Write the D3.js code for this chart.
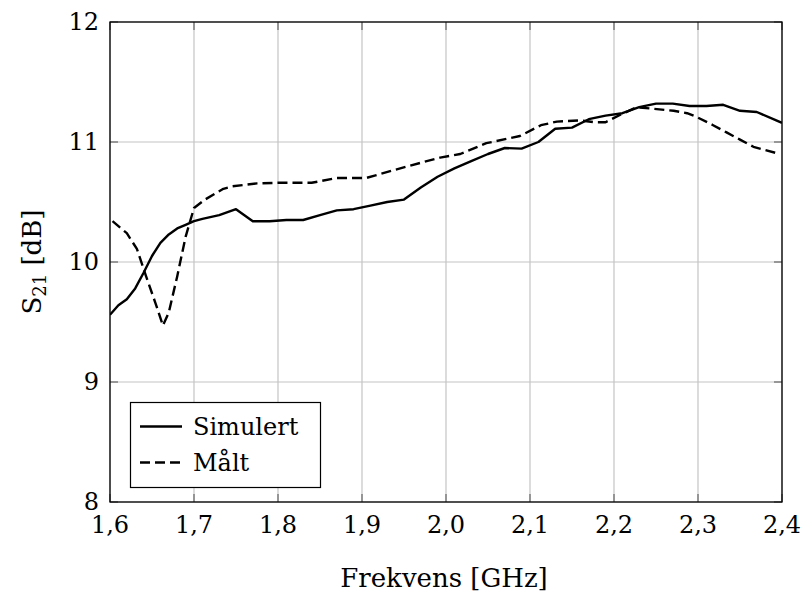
<!DOCTYPE html>
<html>
<head>
<meta charset="utf-8">
<script src="https://cdn.jsdelivr.net/npm/d3@7"></script>
<style>
  html, body { margin: 0; padding: 0; background: #fff; }
  svg text { font-family: "DejaVu Serif", serif; fill: #000; }
</style>
</head>
<body>
<svg id="chart" width="807" height="596"></svg>
<script>
// ---- data ----
const xTicks = [1.6, 1.7, 1.8, 1.9, 2.0, 2.1, 2.2, 2.3, 2.4];
const xTickLabels = ["1,6", "1,7", "1,8", "1,9", "2,0", "2,1", "2,2", "2,3", "2,4"];
const yTicks = [8, 9, 10, 11, 12];
const yTickLabels = ["8", "9", "10", "11", "12"];

const simFreq = [1.600, 1.610, 1.620, 1.630, 1.640, 1.650, 1.660, 1.670, 1.680, 1.690,
  1.700, 1.710, 1.730, 1.750, 1.770, 1.790, 1.810, 1.830, 1.850, 1.870,
  1.890, 1.910, 1.930, 1.950, 1.970, 1.990, 2.010, 2.030, 2.050, 2.070,
  2.090, 2.110, 2.130, 2.150, 2.170, 2.190, 2.210, 2.230, 2.250, 2.270,
  2.290, 2.310, 2.330, 2.350, 2.370, 2.400];
const simS21 = [9.56, 9.64, 9.69, 9.78, 9.91, 10.05, 10.16, 10.23, 10.28, 10.31,
  10.34, 10.36, 10.39, 10.44, 10.34, 10.34, 10.35, 10.35, 10.39, 10.43,
  10.44, 10.47, 10.50, 10.52, 10.62, 10.71, 10.78, 10.84, 10.90, 10.95,
  10.945, 11.00, 11.11, 11.12, 11.19, 11.22, 11.24, 11.29, 11.32, 11.32,
  11.30, 11.30, 11.31, 11.26, 11.25, 11.16];

const measFreq = [1.603, 1.620, 1.632, 1.643, 1.654, 1.663, 1.670, 1.680, 1.690, 1.700,
  1.713, 1.735, 1.745, 1.775, 1.800, 1.840, 1.870, 1.905, 1.915, 1.953,
  1.993, 2.017, 2.048, 2.088, 2.113, 2.132, 2.160, 2.177, 2.190, 2.207,
  2.227, 2.243, 2.271, 2.287, 2.298, 2.318, 2.334, 2.350, 2.366, 2.392];
const measS21 = [10.34, 10.24, 10.11, 9.88, 9.66, 9.47, 9.58, 9.88, 10.21, 10.45,
  10.52, 10.61, 10.63, 10.655, 10.66, 10.66, 10.70, 10.70, 10.72, 10.795,
  10.87, 10.90, 10.99, 11.05, 11.14, 11.17, 11.18, 11.165, 11.165, 11.225,
  11.29, 11.28, 11.26, 11.24, 11.21, 11.14, 11.08, 11.02, 10.96, 10.91];

const seriesNames = ["Simulert", "Målt"];
const xLabel = "Frekvens [GHz]";

// ---- layout ----
const svg = d3.select("#chart");
const L = 110, R = 782, T = 22, B = 502;
const x = d3.scaleLinear().domain([1.6, 2.4]).range([L, R]);
const y = d3.scaleLinear().domain([8, 12]).range([B, T]);
const FS = 24;
const FT = 26;

// grid
const grid = svg.append("g");
grid.selectAll("line.gx").data(xTicks).join("line")
  .attr("x1", d => x(d)).attr("x2", d => x(d)).attr("y1", T).attr("y2", B)
  .attr("stroke", "#c4c4c4").attr("stroke-width", 1.2);
grid.selectAll("line.gy").data(yTicks).join("line")
  .attr("y1", d => y(d)).attr("y2", d => y(d)).attr("x1", L).attr("x2", R)
  .attr("stroke", "#c4c4c4").attr("stroke-width", 1.2);

// inward ticks on all sides
const tk = 8;
const ticks = svg.append("g").attr("stroke", "#666").attr("stroke-width", 1.2);
ticks.selectAll("line.tb").data(xTicks).join("line")
  .attr("x1", d => x(d)).attr("x2", d => x(d)).attr("y1", B).attr("y2", B - tk);
ticks.selectAll("line.tt").data(xTicks).join("line")
  .attr("x1", d => x(d)).attr("x2", d => x(d)).attr("y1", T).attr("y2", T + tk);
ticks.selectAll("line.tl").data(yTicks).join("line")
  .attr("y1", d => y(d)).attr("y2", d => y(d)).attr("x1", L).attr("x2", L + tk);
ticks.selectAll("line.tr").data(yTicks).join("line")
  .attr("y1", d => y(d)).attr("y2", d => y(d)).attr("x1", R).attr("x2", R - tk);

// tick labels
svg.append("g").selectAll("text").data(xTicks).join("text")
  .attr("x", d => x(d)).attr("y", B + 31)
  .attr("text-anchor", "middle").attr("font-size", FS)
  .text((d, i) => xTickLabels[i]);
svg.append("g").selectAll("text").data(yTicks).join("text")
  .attr("x", L - 11).attr("y", d => y(d) + 8)
  .attr("text-anchor", "end").attr("font-size", FS)
  .text((d, i) => yTickLabels[i]);

// clip
svg.append("clipPath").attr("id", "clip").append("rect")
  .attr("x", L).attr("y", T).attr("width", R - L).attr("height", B - T);

const line = d3.line().x(d => x(d[0])).y(d => y(d[1]));
const simData = simFreq.map((f, i) => [f, simS21[i]]);
const measData = measFreq.map((f, i) => [f, measS21[i]]);

svg.append("path").datum(simData).attr("d", line)
  .attr("clip-path", "url(#clip)")
  .attr("fill", "none").attr("stroke", "#000").attr("stroke-width", 2.4)
  .attr("stroke-linejoin", "round");
svg.append("path").datum(measData).attr("d", line)
  .attr("clip-path", "url(#clip)")
  .attr("fill", "none").attr("stroke", "#000").attr("stroke-width", 2.4)
  .attr("stroke-dasharray", "10,5").attr("stroke-linejoin", "round");

// frame
svg.append("rect").attr("x", L).attr("y", T).attr("width", R - L).attr("height", B - T)
  .attr("fill", "none").attr("stroke", "#000").attr("stroke-width", 1.3);

// legend
const lg = svg.append("g");
lg.append("rect").attr("x", 130.5).attr("y", 402.5).attr("width", 190).attr("height", 85)
  .attr("fill", "#fff").attr("stroke", "#000").attr("stroke-width", 1.2);
lg.append("line").attr("x1", 140).attr("x2", 182).attr("y1", 426.5).attr("y2", 426.5)
  .attr("stroke", "#000").attr("stroke-width", 2.4);
lg.append("line").attr("x1", 140).attr("x2", 182).attr("y1", 462.5).attr("y2", 462.5)
  .attr("stroke", "#000").attr("stroke-width", 2.4).attr("stroke-dasharray", "10,5");
lg.append("text").attr("x", 193).attr("y", 435).attr("font-size", FS).text(seriesNames[0]);
lg.append("text").attr("x", 193).attr("y", 471).attr("font-size", FS).text(seriesNames[1]);

// axis titles
svg.append("text").attr("x", (L + R) / 2 - 2).attr("y", 587)
  .attr("text-anchor", "middle").attr("font-size", FT).text(xLabel);
const yl = svg.append("text")
  .attr("transform", `translate(41,${(T + B) / 2}) rotate(-90)`)
  .attr("text-anchor", "middle").attr("font-size", FT);
yl.append("tspan").text("S");
yl.append("tspan").attr("font-size", 18).attr("dy", 5).text("21");
yl.append("tspan").attr("dy", -5).text(" [dB]");
</script>
</body>
</html>
